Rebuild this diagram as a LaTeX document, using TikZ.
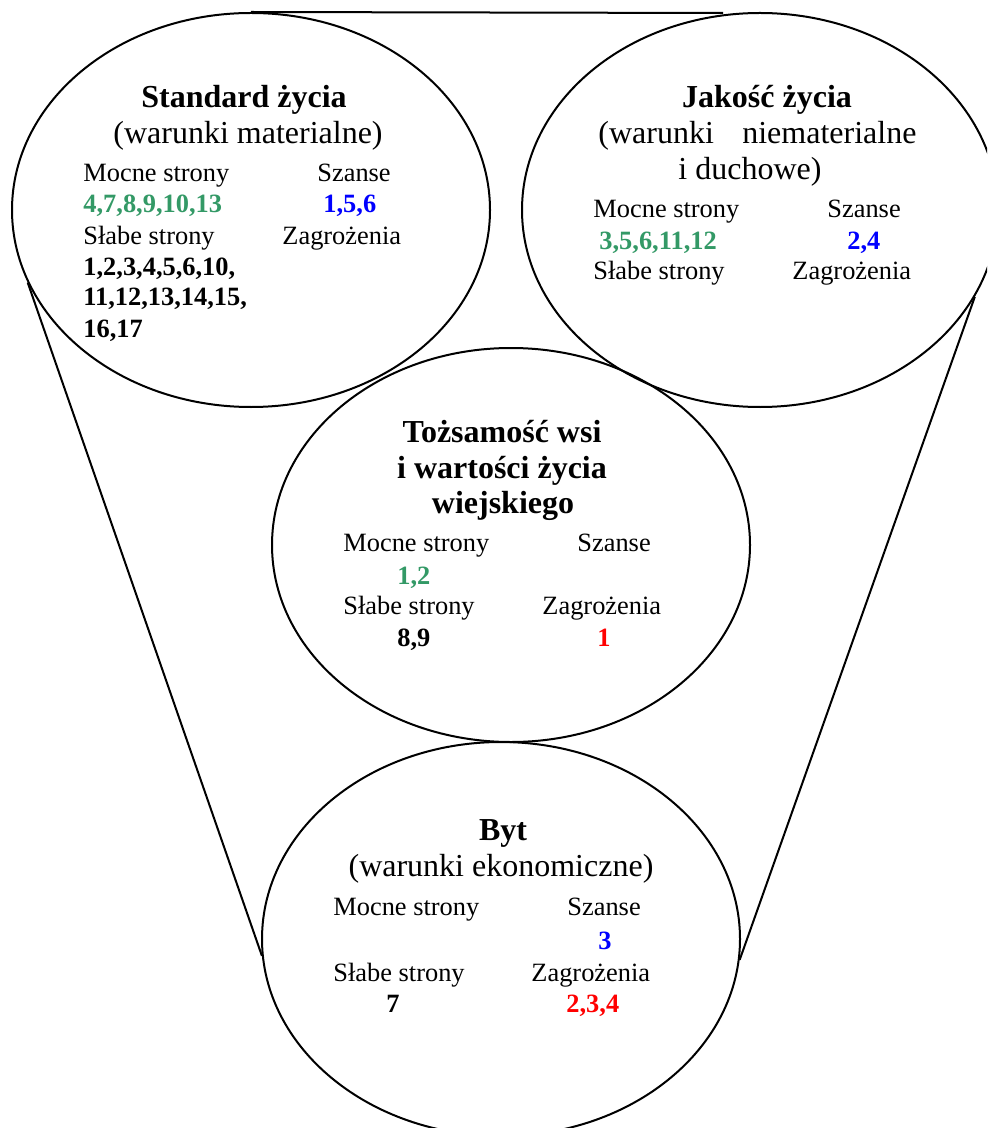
\documentclass[tikz,border=0pt]{standalone}
\usepackage{fontspec}
\setmainfont{Liberation Serif}
\usetikzlibrary{shapes.geometric}
\definecolor{sgreen}{HTML}{339966}
\definecolor{pblue}{HTML}{0000FF}
\definecolor{pred}{HTML}{FF0000}
\tikzset{
  ell/.style={draw, ellipse, inner sep=0pt, line width=1pt, minimum height=197pt},
  conn/.style={line width=1pt},
  ttl/.style={font=\fontsize{16}{19}\selectfont\bfseries, anchor=base, inner sep=0pt},
  sub/.style={font=\fontsize{16}{19}\selectfont, anchor=base, inner sep=0pt},
  subw/.style={font=\fontsize{16}{19}\selectfont, anchor=base west, inner sep=0pt},
  lbl/.style={font=\fontsize{13.2}{16}\selectfont, anchor=base west, inner sep=0pt},
  num/.style={font=\fontsize{13.2}{16}\selectfont\bfseries, anchor=base west, inner sep=0pt},
}
\begin{document}
\begin{tikzpicture}[x=0.5pt,y=-0.5pt]
\useasboundingbox (0,0) rectangle (987,1128);
\clip (0,0) rectangle (987,1128);
% ellipses
\node[ell, minimum width=239pt] (e1) at (251,210) {};
\node[ell, minimum width=238pt] (e2) at (760,210) {};
\node[ell, minimum width=239pt] (e3) at (511,545) {};
\node[ell, minimum width=239pt] (e4) at (501,939) {};
\coordinate (topend) at (723,13);
% connectors
\draw[conn] (e1.north) -- (topend);
\draw[conn] (e1.198.6) -- (e4.184.6);
\draw[conn] (e2.338.7) -- (e4.355.7);
% ellipse 1
\node[ttl] (t1) at (244,108) {Standard życia};
\node[sub] (s1) at (248,144) {(warunki materialne)};
\node[lbl] (m1) at (83,182) {Mocne strony};
\node[lbl] (z1) at (317,182) {Szanse};
\node[num, text=sgreen] (mn1) at (83,213) {4,7,8,9,10,13};
\node[num, text=pblue] (zn1) at (323,213) {1,5,6};
\node[lbl] (sl1) at (83,245) {Słabe strony};
\node[lbl] (zg1) at (282,245) {Zagrożenia};
\node[num] (sn1a) at (83,276) {1,2,3,4,5,6,10,};
\node[num] (sn1b) at (83,306) {11,12,13,14,15,};
\node[num] (sn1c) at (83,337) {16,17};
% ellipse 2
\node[ttl] (t2) at (767,108) {Jakość życia};
\node[subw] (s2a) at (598,144) {(warunki\hspace{14.2pt}niematerialne};
\node[subw] (s2b) at (678,180) {i duchowe)};
\node[lbl] (m2) at (593,218) {Mocne strony};
\node[lbl] (z2) at (827,218) {Szanse};
\node[num, text=sgreen] (mn2) at (599,250) {3,5,6,11,12};
\node[num, text=pblue] (zn2) at (847,250) {2,4};
\node[lbl] (sl2) at (593,280) {Słabe strony};
\node[lbl] (zg2) at (792,280) {Zagrożenia};
% ellipse 3
\node[ttl] (t3a) at (502,442) {Tożsamość wsi};
\node[ttl] (t3b) at (502,478) {i wartości życia};
\node[ttl] (t3c) at (503,513) {wiejskiego};
\node[lbl] (m3) at (343,551) {Mocne strony};
\node[lbl] (z3) at (577,551) {Szanse};
\node[num, text=sgreen] (mn3) at (397,584) {1,2};
\node[lbl] (sl3) at (343,614) {Słabe strony};
\node[lbl] (zg3) at (542,614) {Zagrożenia};
\node[num] (sn3) at (397,646) {8,9};
\node[num, text=pred] (zn3) at (597,646) {1};
% ellipse 4
\node[ttl] (t4) at (503,840) {Byt};
\node[sub] (s4) at (501,876) {(warunki ekonomiczne)};
\node[lbl] (m4) at (333,915) {Mocne strony};
\node[lbl] (z4) at (567,915) {Szanse};
\node[num, text=pblue] (zn4) at (598,949) {3};
\node[lbl] (sl4) at (333,981) {Słabe strony};
\node[lbl] (zg4) at (531,981) {Zagrożenia};
\node[num] (sn4) at (386,1012) {7};
\node[num, text=pred] (zr4) at (566,1012) {2,3,4};
\end{tikzpicture}
\end{document}
